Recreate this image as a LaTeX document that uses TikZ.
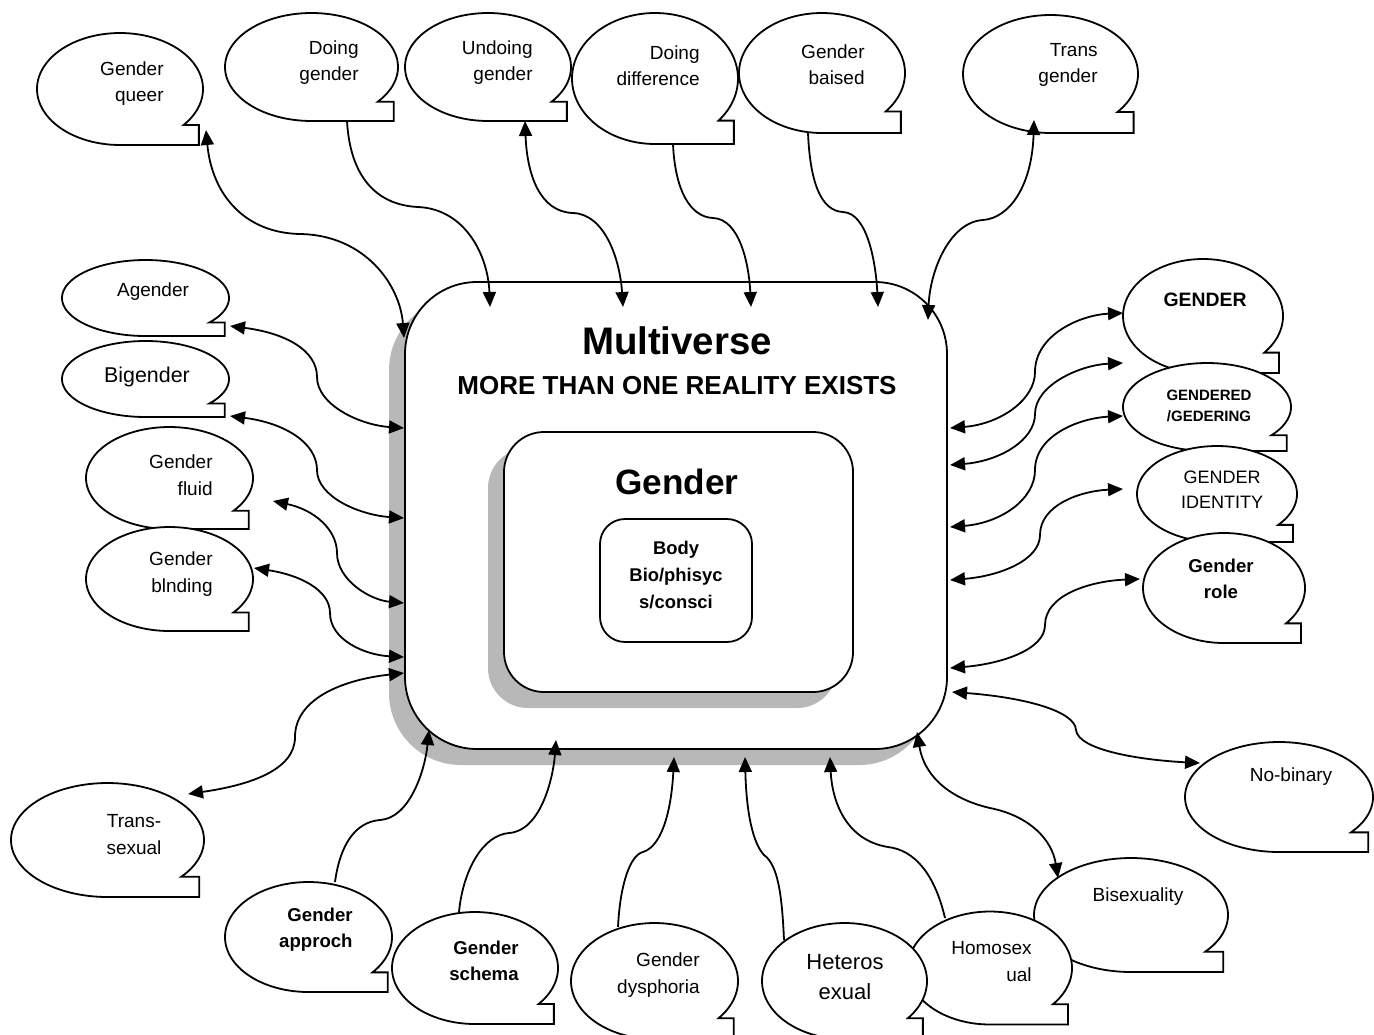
\documentclass[tikz,border=0pt]{standalone}
\usepackage{fontspec}
\setmainfont{Liberation Sans}
\usetikzlibrary{arrows.meta,shadows}

\definecolor{shadowgray}{gray}{0.72}

\tikzset{
  bubble line/.style={draw=black, line width=0.9pt, fill=white, line join=miter},
  bubble text/.style={inner sep=0pt, align=center, font=\fontsize{9.5}{13.2}\selectfont},
  rtext/.style={align=right, anchor=east},
  boldtext/.style={font=\bfseries\fontsize{9.3}{13}\selectfont},
  link/.style={line width=0.9pt, draw=black},
  tip/.style={-{Triangle[length=7.5pt,width=6.5pt]}},
  tips/.style={{Triangle[length=7.5pt,width=6.5pt]}-{Triangle[length=7.5pt,width=6.5pt]}},
  panel/.style={draw, line width=0.9pt, fill=white, inner sep=0pt},
  panel shadow/.style={general shadow={shadow xshift=-8pt, shadow yshift=-8pt, fill=shadowgray}},
}

% speech bubble: name, centre x, centre y, x radius, y radius, text position, text options, text
\newcommand\callout[8]{%
  \draw[bubble line] plot[domain=90:400, samples=120] ({#2+#4*cos(\x)},{#3+#5*sin(\x)})
    -- ({#2+0.95*#4},{#3+#5*sin(40)}) -- ({#2+0.95*#4},{#3+#5}) -- cycle;
  \coordinate (#1-c) at (#2,#3);
  \node[bubble text,#7] (#1) at (#6) {#8};
}

\begin{document}
\begin{tikzpicture}[x=0.5pt,y=-0.5pt]
\useasboundingbox (0,0) rectangle (1374,1034);

% central panels
\node[panel, rounded corners=36pt, minimum width=271pt, minimum height=233.5pt, panel shadow] (mv) at (676,515.5) {};
\node[font=\bfseries\fontsize{19.2}{23}\selectfont] (mvtitle) at (677,341) {Multiverse};
\node[font=\bfseries\fontsize{13}{15}\selectfont] (mvsub) at (677,386) {MORE THAN ONE REALITY EXISTS};
\node[panel, rounded corners=20pt, minimum width=174.5pt, minimum height=130pt, panel shadow] (gn) at (678.5,562) {};
\node[font=\bfseries\fontsize{17.6}{20}\selectfont] (gntitle) at (677,482) {Gender};
\node[panel, rounded corners=12.5pt, minimum width=76pt, minimum height=61.5pt] (bd) at (676,580.5) {};
\node[font=\bfseries\fontsize{9.2}{13.5}\selectfont, align=center] (bdtext) at (676,575) {Body\\Bio/phisyc\\s/consci};

% top row
\callout{gq}{120}{89}{83}{56}{164,83.5}{rtext}{Gender\\queer}
\callout{dg}{311.5}{67}{86.5}{54}{359,62.5}{rtext}{Doing\\gender}
\callout{ug}{488}{67}{83}{54}{533,62.5}{rtext}{Undoing\\gender}
\callout{dd}{655}{78.5}{83}{65.5}{700,65.5}{rtext}{Doing\\difference}
\callout{gz}{822}{73}{83}{60}{865,64.5}{rtext}{Gender\\baised}
\callout{tg}{1050.5}{74}{87.5}{59}{1098,65}{rtext}{Trans\\gender}

% left column
\callout{ag}{145.5}{298}{83.5}{38}{153,292}{}{Agender}
\callout{bg}{145.5}{379}{83.5}{38}{147,377}{font=\fontsize{10.7}{13}\selectfont}{Bigender}
\callout{gf}{169.5}{478}{83.5}{51}{213,475}{rtext}{Gender\\fluid}
\callout{gb}{169.5}{579}{83.5}{52}{213,574}{rtext}{Gender\\blnding}
\callout{ts}{107.5}{840}{96.5}{57}{134,834.5}{}{Trans-\\sexual}

% right column
\callout{ge}{1203}{316}{80}{57}{1205,300}{font=\bfseries\fontsize{9.7}{12}\selectfont}{GENDER}
\callout{gd}{1207}{407}{84}{44}{1209,405.5}{font=\bfseries\fontsize{7.5}{10.5}\selectfont}{GENDERED\\/GEDERING}
\callout{gi}{1217}{494}{80}{48}{1222,489.5}{font=\fontsize{9}{12.5}\selectfont}{GENDER\\IDENTITY}
\callout{gr}{1224}{588}{81}{55}{1221,579}{boldtext}{Gender\\role}
\callout{nb}{1279}{797}{94}{55}{1291,777}{}{No-binary}

% bottom row
\callout{ga}{308.5}{937}{83.5}{55}{353,930}{rtext,boldtext}{Gender\\approch}
\callout{gs}{475}{968}{83}{56}{519,961}{rtext,boldtext}{Gender\\schema}
\callout{gp}{654.5}{981}{83.5}{58}{700,975}{rtext}{Gender\\dysphoria}
\callout{bs}{1131}{915}{97}{57}{1138,897}{}{Bisexuality}
\callout{hs}{990}{968}{82}{56.5}{1032,961.5}{rtext}{Homosex\\ual}
\callout{he}{844.5}{981}{82.5}{58}{845,977}{font=\fontsize{11}{15}\selectfont}{Heteros\\exual}

% attachment points on the bubbles
\coordinate (gq-a) at (206,130);
\coordinate (dg-a) at (347,121);
\coordinate (ug-a) at (525,121);
\coordinate (dd-a) at (673,144);
\coordinate (gz-a) at (808,133);
\coordinate (tg-a) at (1034,120);
\coordinate (ag-a) at (230,326);
\coordinate (bg-a) at (230,416);
\coordinate (gf-a) at (273,501);
\coordinate (gb-a) at (254,568);
\coordinate (ts-a) at (188,794);
\coordinate (ga-a) at (335,882);
\coordinate (gs-a) at (459,912);
\coordinate (gp-a) at (618,927);
\coordinate (he-a) at (784,940);
\coordinate (hs-a) at (945,918);
\coordinate (bs-a) at (1058,878);
\coordinate (nb-a) at (1200,763);
\coordinate (ge-a) at (1123,313);
\coordinate (gd-a) at (1123,363);
\coordinate (gd-b) at (1123,416);
\coordinate (gi-a) at (1123,489);
\coordinate (gr-a) at (1140,579);

% attachment points on the outer panel
\coordinate (mv-gq) at (404,338);
\coordinate (mv-dg) at (490,307);
\coordinate (mv-ug) at (623,307);
\coordinate (mv-dd) at (751,307);
\coordinate (mv-gz) at (878,307);
\coordinate (mv-tg) at (928,320);
\coordinate (mv-ag) at (404,428);
\coordinate (mv-bg) at (404,518);
\coordinate (mv-gf) at (404,603);
\coordinate (mv-gb) at (404,657);
\coordinate (mv-ts) at (404,673);
\coordinate (mv-ga) at (429,730);
\coordinate (mv-gs) at (556,740);
\coordinate (mv-gp) at (674,757);
\coordinate (mv-he) at (745,757);
\coordinate (mv-hs) at (830,757);
\coordinate (mv-bs) at (917,732);
\coordinate (mv-nb) at (952,692);
\coordinate (mv-ge) at (950,428);
\coordinate (mv-gd) at (950,465);
\coordinate (mv-gd2) at (950,527);
\coordinate (mv-gi) at (950,580);
\coordinate (mv-gr) at (950,668);

% connectors, top
\draw[link,tips] (gq-a) .. controls (212,195) and (245,233) .. (300,234) .. controls (365,235) and (400,285) .. (mv-gq);
\draw[link,tip] (dg-a) .. controls (350,175) and (375,205) .. (418,207) .. controls (465,209) and (488,255) .. (mv-dg);
\draw[link,tips] (ug-a) .. controls (527,175) and (540,212) .. (573,213) .. controls (605,214) and (620,260) .. (mv-ug);
\draw[link,tip] (dd-a) .. controls (675,190) and (690,217) .. (713,218) .. controls (740,219) and (749,265) .. (mv-dd);
\draw[link,tip] (gz-a) .. controls (810,180) and (820,211) .. (843,212) .. controls (868,213) and (876,265) .. (mv-gz);
\draw[link,tips] (tg-a) .. controls (1032,185) and (1010,218) .. (983,220) .. controls (950,222) and (930,270) .. (mv-tg);

% connectors, left
\draw[link,tips] (ag-a) .. controls (285,333) and (317,350) .. (317,377) .. controls (317,405) and (360,425) .. (mv-ag);
\draw[link,tips] (bg-a) .. controls (285,423) and (317,443) .. (317,470) .. controls (317,497) and (360,515) .. (mv-bg);
\draw[link,tips] (gf-a) .. controls (315,510) and (337,530) .. (337,553) .. controls (337,580) and (370,600) .. (mv-gf);
\draw[link,tips] (gb-a) .. controls (300,575) and (330,590) .. (330,613) .. controls (330,640) and (365,655) .. (mv-gb);
\draw[link,tips] (ts-a) .. controls (250,785) and (295,770) .. (295,737) .. controls (295,700) and (340,680) .. (mv-ts);

% connectors, bottom
\draw[link,tip] (ga-a) .. controls (340,845) and (355,822) .. (380,820) .. controls (410,818) and (425,770) .. (mv-ga);
\draw[link,tip] (gs-a) .. controls (463,870) and (483,835) .. (509,833) .. controls (540,831) and (553,780) .. (mv-gs);
\draw[link,tip] (gp-a) .. controls (620,885) and (630,855) .. (643,852) .. controls (665,845) and (672,800) .. (mv-gp);
\draw[link,tip] (he-a) .. controls (782,895) and (778,865) .. (764,855) .. controls (750,840) and (746,800) .. (mv-he);
\draw[link,tip] (hs-a) .. controls (935,875) and (915,850) .. (888,847) .. controls (845,840) and (832,800) .. (mv-hs);
\draw[link,tips] (mv-bs) .. controls (925,780) and (955,800) .. (990,808) .. controls (1030,816) and (1052,840) .. (bs-a);
\draw[link,tips] (mv-nb) .. controls (1020,697) and (1075,710) .. (1076,730) .. controls (1078,750) and (1140,760) .. (nb-a);

% connectors, right
\draw[link,tips] (mv-ge) .. controls (1000,424) and (1035,400) .. (1035,372) .. controls (1035,335) and (1080,315) .. (ge-a);
\draw[link,tips] (mv-gd) .. controls (1000,461) and (1035,440) .. (1035,414) .. controls (1035,385) and (1080,365) .. (gd-a);
\draw[link,tips] (mv-gd2) .. controls (1000,523) and (1035,500) .. (1035,470) .. controls (1035,435) and (1080,418) .. (gd-b);
\draw[link,tips] (mv-gi) .. controls (1000,576) and (1040,560) .. (1040,535) .. controls (1040,505) and (1080,491) .. (gi-a);
\draw[link,tips] (mv-gr) .. controls (1000,664) and (1045,650) .. (1045,625) .. controls (1045,595) and (1090,581) .. (gr-a);
\end{tikzpicture}
\end{document}
